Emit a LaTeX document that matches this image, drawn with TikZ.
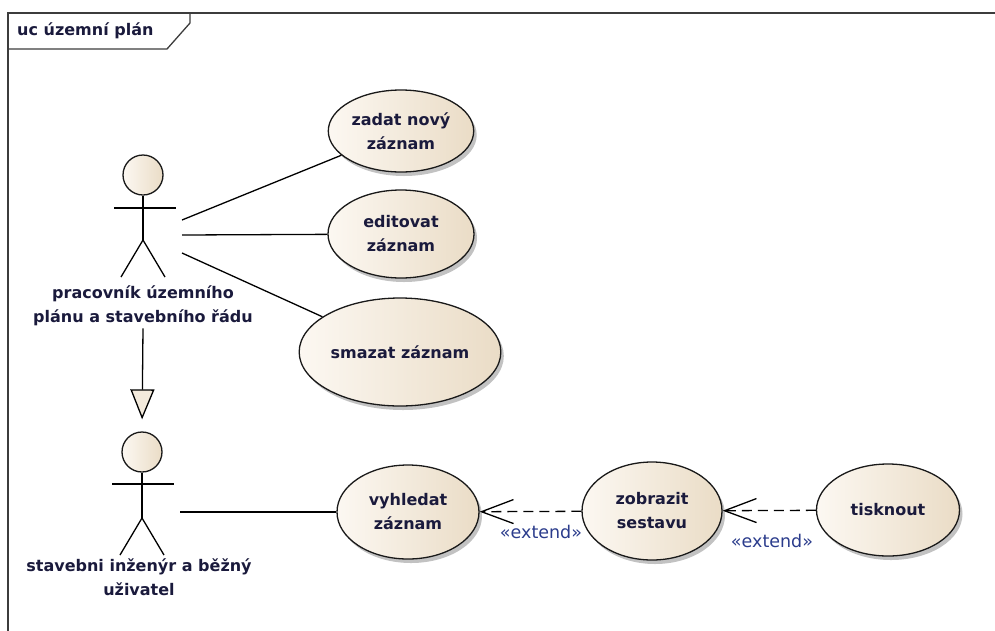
\documentclass[tikz,border=0pt]{standalone}
\usepackage{fontspec}
\setmainfont{DejaVu Sans}
\usetikzlibrary{shapes.geometric,arrows.meta,shadows,calc}
\definecolor{ucfill}{HTML}{F3EADC}
\definecolor{ucfillL}{HTML}{FCF8F2}
\definecolor{ucfillR}{HTML}{EADCC6}
\definecolor{uctext}{HTML}{1A1A3C}
\definecolor{ucstereo}{HTML}{2B3C8C}
\definecolor{frameline}{HTML}{3C3C3C}

\begin{document}
\begin{tikzpicture}[x=1pt,y=-1pt,
  lbl/.style={font=\fontsize{16}{24}\selectfont\bfseries, text=uctext, align=center, inner sep=2pt},
  usecase/.style={ellipse, draw=black!90, line width=1.3pt, left color=ucfillL, right color=ucfillR,
    inner sep=0pt, lbl,
    drop shadow={shadow xshift=3pt, shadow yshift=-4pt, fill=black!40, opacity=0.6}},
  actorhead/.style={circle, draw=black!90, line width=1.3pt, minimum size=40pt, inner sep=0pt,
    left color=ucfillL, right color=ucfillR},
  limb/.style={draw=black, line width=1.3pt},
  assoc/.style={draw=black, line width=1.3pt},
  generalization/.style={draw=black, line width=1.3pt,
    -{Triangle[length=30pt, width=24pt, fill=ucfill]}},
  extendarrow/.style={draw=black, line width=1.3pt, dash pattern=on 10pt off 6pt,
    -{Straight Barb[length=32pt, width=24pt]}},
  stereo/.style={font=\fontsize{17.5}{20}\selectfont, text=ucstereo, inner sep=1pt},
  frame/.style={draw=frameline, line width=1.6pt}
]
\useasboundingbox (0,0) rectangle (995,630);
\clip (0,0) rectangle (995,630);

% diagram frame and its name tab
\draw[frame] (8,650) -- (8,13) -- (1010,13);
\draw[frame, line width=1.3pt] (8,49) -- (167,49) -- (190,23) -- (190,13);
\node[lbl, anchor=west] (title) at (15,31) {uc územní plán};

% use cases
\node[usecase, minimum width=145pt, minimum height=82pt] (zadat) at (401,131) {zadat nový\\záznam};
\node[usecase, minimum width=146pt, minimum height=88pt] (editovat) at (401,234) {editovat\\záznam};
\node[usecase, minimum width=160pt, minimum height=108pt] (smazat) at (400,352) {smazat záznam};
\node[usecase, minimum width=142pt, minimum height=94pt] (vyhledat) at (408,512) {vyhledat\\záznam};
\node[usecase, minimum width=140pt, minimum height=98pt] (zobrazit) at (652,511) {zobrazit\\sestavu};
\node[usecase, minimum width=143pt, minimum height=92pt] (tisknout) at (888,510) {tisknout};

% actor: pracovník územního plánu
\node[actorhead] (a1head) at (143,175) {};
\coordinate (a1hip) at (143,240);
\draw[limb] (a1head.south) -- (a1hip);
\draw[limb] (114,208) -- (176,208);
\draw[limb] (121,277) -- (a1hip) -- (165,277);
\node[lbl] (a1lbl) at (143,306) {pracovník územního\\plánu a stavebního řádu};

% actor: stavební inženýr
\node[actorhead] (a2head) at (142,452) {};
\coordinate (a2hip) at (142,518);
\draw[limb] (a2head.south) -- (a2hip);
\draw[limb] (112,484) -- (174,484);
\draw[limb] (120,555) -- (a2hip) -- (164,555);
\node[lbl] (a2lbl) at (139,577) {stavebni inženýr a běžný\\uživatel};

% generalization between the actors
\draw[generalization, shorten >=12pt] (a1lbl.south) -- (a2head.north);

% associations
\coordinate (a1r1) at (182,220);
\coordinate (a1r2) at (182,235);
\coordinate (a1r3) at (182,253);
\coordinate (a2r) at (180,512);
\draw[assoc] (a1r1) -- (zadat);
\draw[assoc] (a1r2) -- (editovat);
\draw[assoc] (a1r3) -- (smazat);
\draw[assoc] (a2r) -- (vyhledat);

% extend relations
\draw[extendarrow] (zobrazit) -- (vyhledat);
\draw[extendarrow] (tisknout) -- (zobrazit);
\node[stereo] (ext1) at (541,532) {«extend»};
\node[stereo] (ext2) at (772,541) {«extend»};
\end{tikzpicture}
\end{document}
